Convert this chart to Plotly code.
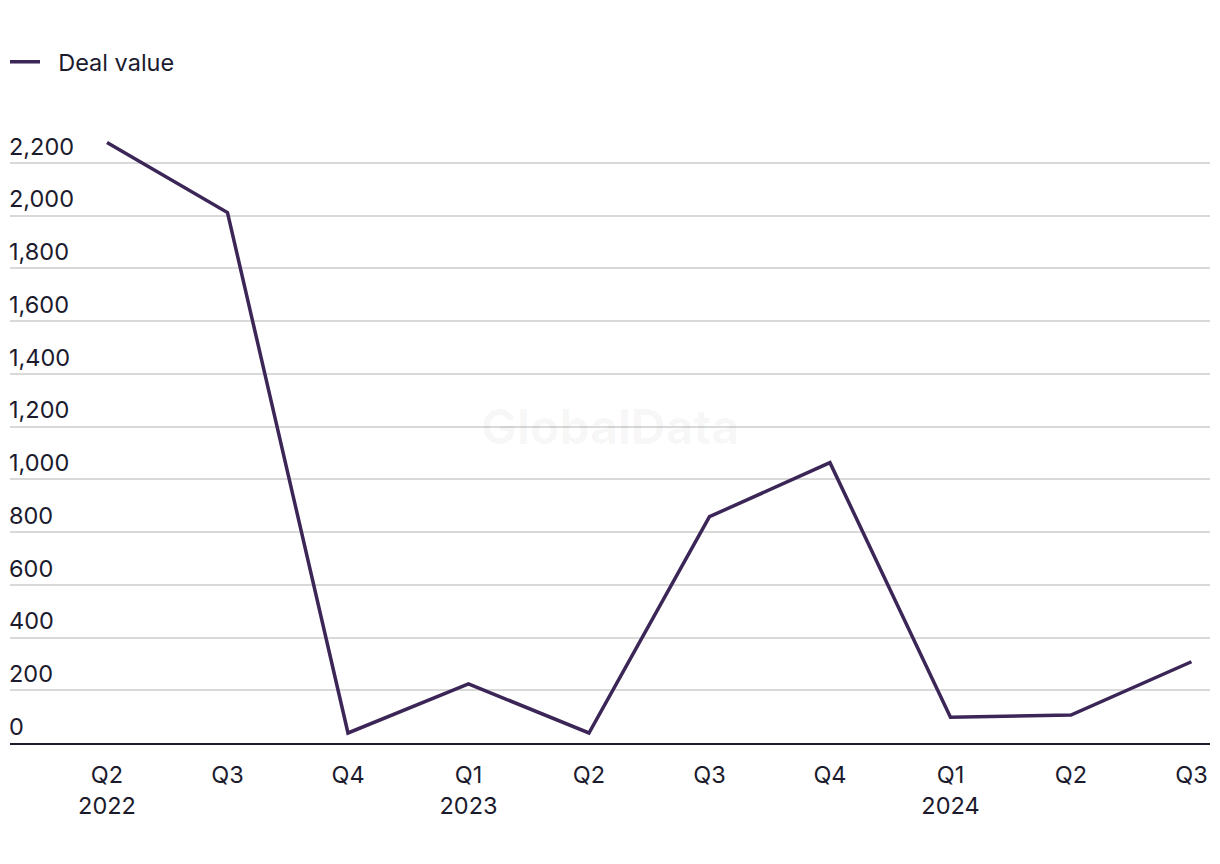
import plotly.graph_objects as go

quarters = ["Q2<br>2022", "Q3", "Q4", "Q1<br>2023", "Q2", "Q3", "Q4", "Q1<br>2024", "Q2", "Q3"]
deal_value = [2277, 2011, 38, 224, 38, 858, 1063, 98, 106, 308]
y_ticks = [0, 200, 400, 600, 800, 1000, 1200, 1400, 1600, 1800, 2000, 2200]
y_tick_text = ["0", "200", "400", "600", "800", "1,000", "1,200", "1,400", "1,600", "1,800", "2,000", "2,200"]

text_color = "#1c1b2e"
line_color = "#3b2657"
font_family = "Inter, 'Noto Sans', sans-serif"
fs = 23.5

x_idx = list(range(len(quarters)))

fig = go.Figure()
fig.add_trace(go.Scatter(
    x=x_idx, y=deal_value, mode="lines", name="\u00a0\u00a0Deal value",
    line=dict(color=line_color, width=3.5),
))

fig.update_layout(
    width=1220, height=864,
    margin=dict(l=10, r=10, t=110, b=121),
    paper_bgcolor="white", plot_bgcolor="white",
    font=dict(family=font_family, size=fs, color=text_color),
    showlegend=True,
    legend=dict(
        orientation="h", xref="container", yref="container",
        x=5 / 1220, xanchor="left", y=1 - 62 / 864, yanchor="middle",
        font=dict(size=fs, color=text_color),
        bgcolor="rgba(0,0,0,0)",
    ),
    xaxis=dict(
        range=[-0.805, 9.154],
        tickvals=x_idx, ticktext=quarters,
        showgrid=False, zeroline=False,
        showline=True, linecolor=text_color, linewidth=2,
        ticks="", tickfont=dict(size=fs, color=text_color),
        ticklabelstandoff=10,
    ),
    yaxis=dict(
        range=[0, 2400],
        tickvals=y_ticks, ticktext=y_tick_text,
        showgrid=True, gridcolor="#d9d9d9", gridwidth=1.5,
        zeroline=False, showline=False, ticks="",
        ticklabelposition="inside top",
        ticklabelstandoff=-4,
        tickfont=dict(size=fs, color=text_color),
    ),
    annotations=[dict(
        text="<b>GlobalData</b>", x=0.5, y=0.5, xref="paper", yref="paper",
        showarrow=False, font=dict(size=48, color="rgba(0,0,0,0.035)", family="Inter, sans-serif"),
    )],
)

fig.write_html("out.html")
